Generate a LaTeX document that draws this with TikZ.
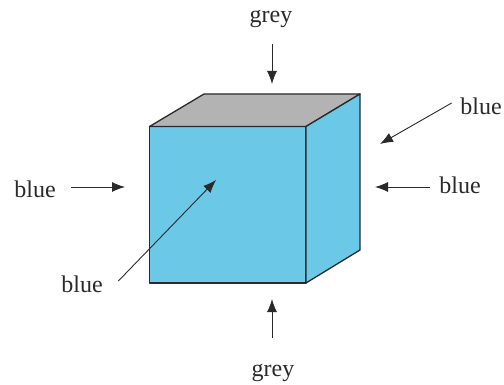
\documentclass[tikz,border=0pt]{standalone}
\usepackage{fontspec}
\setmainfont{Liberation Serif}
\usetikzlibrary{arrows.meta}
\definecolor{faceblue}{HTML}{6BC8E6}
\definecolor{facegrey}{HTML}{B3B3B3}
\definecolor{inkdark}{HTML}{2A2A2A}
\tikzset{
	face/.style={draw=inkdark,line width=1.3pt,line join=round},
	pointer/.style={draw=inkdark,line width=0.9pt,-{Latex[length=13pt,width=10pt]}},
	lab/.style={text=inkdark,font=\fontsize{24}{27}\selectfont,inner sep=0pt}
}
\begin{document}
\begin{tikzpicture}[x=1pt,y=-1pt]
	\useasboundingbox (0,0) rectangle (504,385);
	\coordinate (fl) at (149.5,126.5);
	\coordinate (fr) at (306,126.5);
	\coordinate (br) at (306,283);
	\coordinate (bl) at (149.5,283);
	\coordinate (tb) at (204,94);
	\coordinate (tr) at (360,94);
	\coordinate (rb) at (360,250);
	\filldraw[face,fill=faceblue] (fl) -- (fr) -- (br) -- (bl) -- cycle;
	\filldraw[face,fill=facegrey] (fl) -- (tb) -- (tr) -- (fr) -- cycle;
	\filldraw[face,fill=faceblue] (fr) -- (tr) -- (rb) -- (br) -- cycle;
	\node[lab] (greytop) at (271,19) {grey};
	\node[lab] (greybot) at (273,373) {grey};
	\node[lab] (blueleft) at (35,189) {blue};
	\node[lab] (blueright) at (460,185) {blue};
	\node[lab] (bluecorner) at (481,106) {blue};
	\node[lab] (bluefront) at (82,284) {blue};
	\coordinate (greytopend) at (272,84);
	\coordinate (greybotend) at (272,299);
	\coordinate (blueleftend) at (125,187);
	\coordinate (bluerightend) at (375,187);
	\coordinate (bluecornerend) at (380,144);
	\coordinate (bluefrontend) at (216,180);
	\draw[pointer] (greytop.south -| greytopend) ++(0,16) -- (greytopend);
	\draw[pointer] (greybot.north -| greybotend) ++(0,-26) -- (greybotend);
	\draw[pointer] (blueleft.east |- blueleftend) ++(15.5,0) -- (blueleftend);
	\draw[pointer] (blueright.west |- bluerightend) ++(-9.5,0) -- (bluerightend);
	\draw[pointer] (bluecorner.west) ++(-8.5,-3) -- (bluecornerend);
	\draw[pointer] (bluefront.east) ++(15.5,-3) -- (bluefrontend);
\end{tikzpicture}
\end{document}
